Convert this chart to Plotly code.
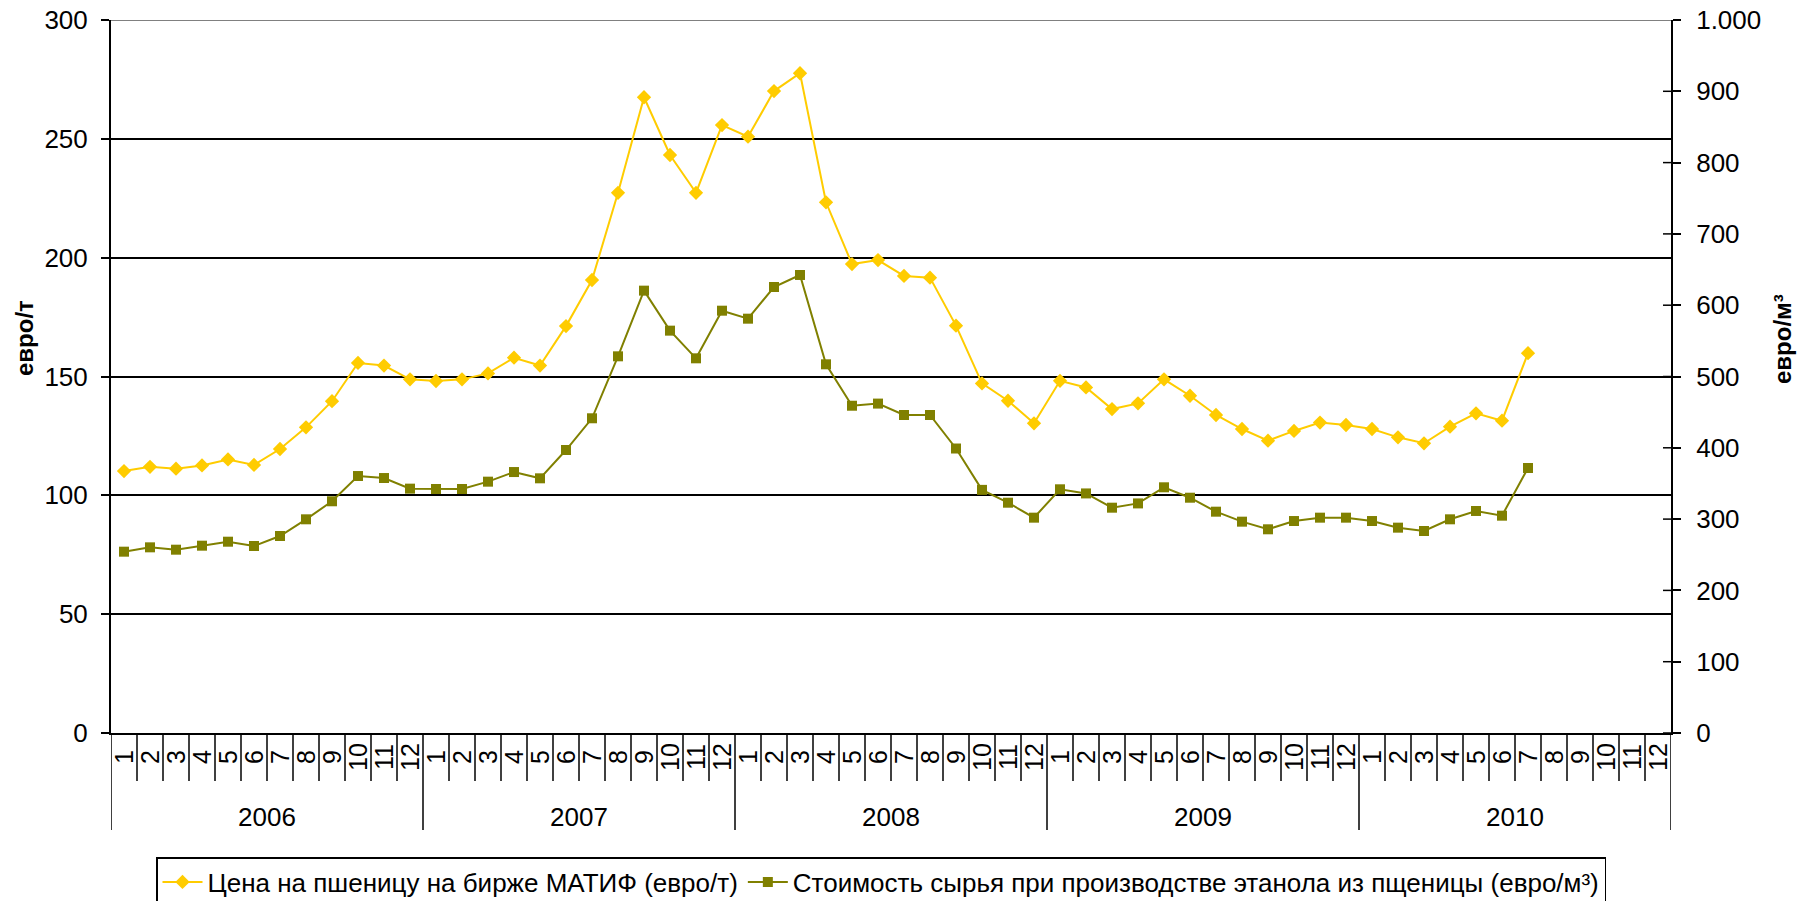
import plotly.graph_objects as go

# Monthly categories, 2006-2010
years = [2006, 2007, 2008, 2009, 2010]
months = list(range(1, 13))
categories = [f"{y}-{m:02d}" for y in years for m in months]

# Wheat price on MATIF, EUR/t (left axis)
wheat_price = [
    110.2, 112.0, 111.2, 112.6, 115.1, 112.8, 119.5, 128.6, 139.6, 155.7, 154.6, 148.8,
    148.1, 148.8, 151.3, 157.9, 154.6, 171.2, 190.6, 227.3, 267.5, 243.2, 227.3, 255.8,
    250.9, 270.1, 277.6, 223.3, 197.3, 199.0, 192.3, 191.6, 171.4, 147.1, 139.8, 130.3,
    148.2, 145.4, 136.3, 138.7, 148.8, 141.9, 133.8, 127.9, 123.0, 127.1, 130.6, 129.6,
    127.9, 124.4, 121.9, 128.9, 134.5, 131.4, 159.8, None, None, None, None, None,
]

# Feedstock cost of wheat ethanol, EUR/m3 (right axis)
ethanol_cost = [
    254.3, 260.4, 257.1, 262.7, 268.3, 262.3, 276.3, 299.7, 325.0, 360.4, 357.6, 342.7,
    342.2, 342.2, 352.5, 366.0, 357.2, 396.9, 441.4, 528.3, 620.4, 564.3, 525.5, 592.3,
    581.1, 625.5, 642.4, 517.1, 459.0, 462.0, 446.0, 446.0, 399.0, 341.0, 323.0, 302.0,
    341.8, 336.0, 316.0, 322.0, 344.6, 330.0, 310.4, 296.4, 285.7, 297.3, 302.0, 302.0,
    297.3, 288.0, 283.3, 299.7, 311.4, 304.8, 371.7, None, None, None, None, None,
]

left_ticks = [0, 50, 100, 150, 200, 250, 300]
right_ticks = [0, 100, 200, 300, 400, 500, 600, 700, 800, 900, 1000]
right_labels = ["0", "100", "200", "300", "400", "500", "600", "700", "800", "900", "1.000"]

series_names = [
    "Цена на пшеницу на бирже МАТИФ (евро/т)",
    "Стоимость сырья при производстве этанола из пщеницы (евро/м³)",
]
axis_titles = ["евро/т", "евро/м³"]

FONT = "Arial, 'Liberation Sans', sans-serif"
W, H = 1801, 901
ML, MR, MT, MB = 111, 130, 20, 168
PW, PH = W - ML - MR, H - MT - MB


def py(px_y):
    """Convert a page pixel row to paper y."""
    return (H - MB - px_y) / PH


def px(px_x):
    """Convert a page pixel column to paper x."""
    return (px_x - ML) / PW


fig = go.Figure()
fig.add_trace(go.Scatter(
    x=categories, y=wheat_price, name=series_names[0], mode="lines+markers",
    line=dict(color="#FFCC00", width=2),
    marker=dict(symbol="diamond", size=11, color="#FFCC00"),
    yaxis="y",
))
fig.add_trace(go.Scatter(
    x=categories, y=ethanol_cost, name=series_names[1], mode="lines+markers",
    line=dict(color="#808000", width=2),
    marker=dict(symbol="square", size=10, color="#808000"),
    yaxis="y2",
))

shapes = []
# month and year separators below the category axis
for k in range(len(categories) + 1):
    is_year = k % 12 == 0
    shapes.append(dict(
        type="line", xref="x", yref="paper",
        x0=k - 0.5, x1=k - 0.5, y0=0, y1=py(830 if is_year else 781),
        line=dict(color="black", width=1.5), layer="above",
    ))
# inner half of the cross-shaped ticks on the right axis
for v in right_ticks:
    shapes.append(dict(
        type="line", xref="paper", yref="y2",
        x0=1 - 8 / PW, x1=1, y0=v, y1=v,
        line=dict(color="black", width=1.5), layer="above",
    ))
# grey top border of the plot area
shapes.append(dict(
    type="line", xref="paper", yref="y", x0=0, x1=1, y0=300, y1=300,
    line=dict(color="#808080", width=2), layer="above",
))

annotations = []
for i, cat in enumerate(categories):
    annotations.append(dict(
        x=cat, xref="x", y=py(757), yref="paper", text=str(months[i % 12]),
        textangle=-90, showarrow=False, xanchor="center", yanchor="middle",
        font=dict(family=FONT, size=25, color="black"),
    ))
for j, yr in enumerate(years):
    annotations.append(dict(
        x=12 * j + 5.5, xref="x", y=py(817), yref="paper", text=str(yr),
        showarrow=False, xanchor="center", yanchor="middle",
        font=dict(family=FONT, size=26, color="black"),
    ))
# axis titles
annotations.append(dict(
    x=px(24), xref="paper", y=py(338), yref="paper", text=f"<b>{axis_titles[0]}</b>",
    textangle=-90, showarrow=False, xanchor="center", yanchor="middle",
    font=dict(family=FONT, size=24, color="black"),
))
annotations.append(dict(
    x=px(1783), xref="paper", y=py(339), yref="paper", text=f"<b>{axis_titles[1]}</b>",
    textangle=-90, showarrow=False, xanchor="center", yanchor="middle",
    font=dict(family=FONT, size=24, color="black"),
))

fig.update_layout(
    width=W, height=H, autosize=False,
    margin=dict(l=ML, r=MR, t=MT, b=MB, autoexpand=False),
    paper_bgcolor="white", plot_bgcolor="white",
    font=dict(family=FONT, color="black"),
    showlegend=True,
    legend=dict(
        orientation="h", x=px(156), y=py(857), xanchor="left", yanchor="top",
        bordercolor="black", borderwidth=1.5, bgcolor="white",
        font=dict(family=FONT, size=26, color="black"),
        itemwidth=40, tracegroupgap=0,
    ),
    xaxis=dict(
        type="category", categoryorder="array", categoryarray=categories,
        range=[-0.5, len(categories) - 0.5],
        showticklabels=False, ticks="", showgrid=False, zeroline=False,
        showline=True, linecolor="black", linewidth=2,
    ),
    yaxis=dict(
        range=[0, 300], tickvals=left_ticks, ticktext=[str(t) for t in left_ticks],
        showgrid=True, gridcolor="black", gridwidth=1.5, zeroline=False,
        ticks="outside", ticklen=8, tickwidth=1.5, tickcolor="black",
        showline=True, linecolor="black", linewidth=2,
        tickfont=dict(family=FONT, size=26, color="black"), ticklabelstandoff=8,
    ),
    yaxis2=dict(
        overlaying="y", side="right", anchor="x",
        range=[0, 1000], tickvals=right_ticks, ticktext=right_labels,
        showgrid=False, zeroline=False,
        ticks="outside", ticklen=8, tickwidth=1.5, tickcolor="black",
        showline=True, linecolor="black", linewidth=2,
        tickfont=dict(family=FONT, size=26, color="black"), ticklabelstandoff=10,
    ),
    shapes=shapes,
    annotations=annotations,
)

fig.write_html("out.html")
